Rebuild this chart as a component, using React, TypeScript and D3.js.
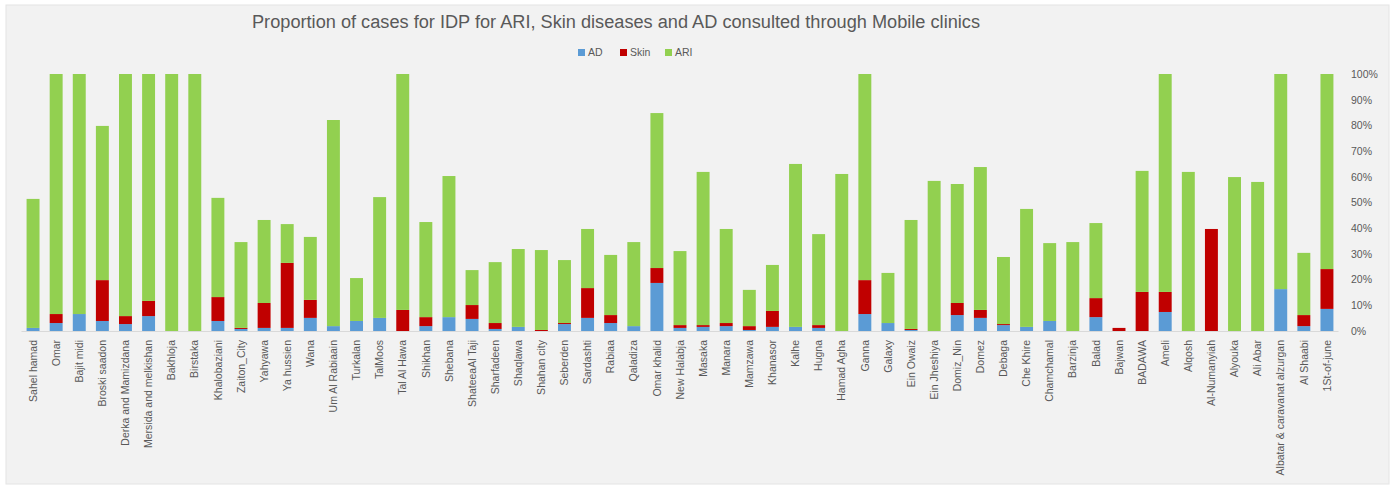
import { useEffect, useRef } from "react";
import * as d3 from "d3";

const categories = [
  "Sahel hamad", "Omar", "Bajit midi", "Broski saadon", "Derka and Mamizdana",
  "Mersida and melkishan", "Bakhloja", "Birstaka", "Khalobaziani", "Zaiton_City",
  "Yahyawa", "Ya hussien", "Wana", "Um Al Rabiaain", "Turkalan", "TalMoos",
  "Tal Al Hawa", "Shikhan", "Shebana", "ShateeaAl Taji", "Sharfadeen", "Shaqlawa",
  "Shahan city", "Seberden", "Sardashti", "Rabiaa", "Qaladiza", "Omar khalid",
  "New Halabja", "Masaka", "Manara", "Mamzawa", "Khanasor", "Kalhe", "Hugna",
  "Hamad Agha", "Ganna", "Galaxy", "Ein Owaiz", "Ein Jheshiya", "Domiz_Nin",
  "Domez", "Debaga", "Che Khire", "Chamchamal", "Barzinja", "Balad", "Bajwan",
  "BADAWA", "Ameli", "Alqosh", "Al-Numanyiah", "Alyouka", "Ali Abar",
  "Albatar & caravanat alzurgan", "Al Shaabi", "1St-of-june",
];

const adValues = [
  1.2, 3.1, 6.6, 3.9, 2.7, 5.8, 0, 0, 3.9, 0.8,
  1.2, 1.2, 5.1, 1.9, 3.9, 5.1, 0, 1.9, 5.4, 4.7,
  0.8, 1.6, 0, 2.7, 5.1, 3.1, 1.9, 18.7, 1.2, 1.6,
  1.9, 0.4, 1.6, 1.6, 1.2, 0, 6.6, 3.1, 0.4, 0,
  6.2, 5.1, 2.3, 1.6, 3.9, 0, 5.4, 0, 0, 7.4,
  0, 0, 0, 0, 16.3, 1.9, 8.6,
];

const skinValues = [
  0, 3.5, 0, 15.9, 3.1, 5.9, 0, 0, 9.3, 0.4,
  9.7, 25.3, 7.0, 0, 0, 0, 8.2, 3.5, 0, 5.4,
  2.3, 0, 0.4, 0.4, 11.6, 3.1, 0, 5.8, 1.1, 0.7,
  1.2, 1.5, 6.2, 0, 1.1, 0, 13.2, 0, 0.4, 0,
  4.7, 3.1, 0.4, 0, 0, 0, 7.4, 1.2, 15.2, 7.8,
  0, 39.7, 0, 0, 0, 4.3, 15.5,
];

const ariValues = [
  50.2, 93.4, 93.4, 60.0, 94.2, 88.3, 100, 100, 38.6, 33.4,
  32.3, 15.1, 24.5, 80.2, 16.7, 47.0, 91.8, 37.0, 54.9, 13.6,
  23.7, 30.3, 31.1, 24.5, 23.0, 23.4, 32.7, 60.3, 28.8, 59.6,
  36.6, 14.1, 17.9, 63.4, 35.4, 61.1, 80.2, 19.5, 42.4, 58.4,
  46.3, 55.6, 26.1, 45.9, 30.3, 34.6, 29.2, 0, 47.1, 84.8,
  61.9, 0, 59.9, 58.0, 83.7, 24.2, 75.9,
];

const seriesNames = ["AD", "Skin", "ARI"];
const seriesColors = ["#5b9bd5", "#c00000", "#92d050"];
const yTicks = [0, 10, 20, 30, 40, 50, 60, 70, 80, 90, 100];

type Row = { name: string; AD: number; Skin: number; ARI: number };

export default function App() {
  const svgRef = useRef<SVGSVGElement>(null);

  useEffect(() => {
    document.body.style.margin = "0";
    if (!svgRef.current) return;
    const width = 1393;
    const height = 485;
    const font = "'Liberation Sans', Arial, sans-serif";
    const textColor = "#595959";

    const svg = d3.select(svgRef.current);
    svg.selectAll("*").remove();
    svg.attr("width", width).attr("height", height);

    svg.append("rect").attr("width", width).attr("height", height).attr("fill", "#ffffff");
    svg
      .append("rect")
      .attr("x", 6)
      .attr("y", 5)
      .attr("width", 1383)
      .attr("height", 479)
      .attr("fill", "#f2f2f2")
      .attr("stroke", "#e4e4e4");

    const rows: Row[] = categories.map((name, i) => ({
      name,
      AD: adValues[i],
      Skin: skinValues[i],
      ARI: ariValues[i],
    }));

    const x = d3.scaleBand().domain(categories).range([21.5, 1338.5]).paddingInner(0.44).paddingOuter(0.22);
    const y = d3.scaleLinear().domain([0, 100]).range([331, 74]);

    const stack = d3.stack<Row>().keys(seriesNames);
    const layers = stack(rows);

    // Bars
    svg
      .append("g")
      .selectAll("g")
      .data(layers)
      .join("g")
      .attr("fill", (_d, i) => seriesColors[i])
      .selectAll("rect")
      .data((d) => d)
      .join("rect")
      .attr("x", (d) => x(d.data.name)!)
      .attr("width", x.bandwidth())
      .attr("y", (d) => y(d[1]))
      .attr("height", (d) => Math.max(0, y(d[0]) - y(d[1])));

    // Baseline
    svg
      .append("line")
      .attr("x1", 21.5)
      .attr("x2", 1338.5)
      .attr("y1", 331.5)
      .attr("y2", 331.5)
      .attr("stroke", "#d9d9d9")
      .attr("stroke-width", 1);

    // Right axis
    const yAxis = d3
      .axisRight(y)
      .tickValues(yTicks)
      .tickFormat((d) => `${d}%`)
      .tickSize(0)
      .tickPadding(0);
    const gy = svg.append("g").attr("transform", "translate(1351,0)").call(yAxis);
    gy.select(".domain").remove();
    gy.selectAll("text")
      .attr("fill", textColor)
      .style("font-family", font)
      .style("font-size", "10.5px");

    // Category labels
    const xAxis = d3.axisBottom(x).tickSize(0).tickPadding(0);
    const gx = svg.append("g").attr("transform", "translate(0,340)").call(xAxis);
    gx.select(".domain").remove();
    gx.selectAll("text")
      .attr("transform", "rotate(-90)")
      .attr("x", 0)
      .attr("y", 0)
      .attr("dy", "0.35em")
      .attr("text-anchor", "end")
      .attr("fill", textColor)
      .style("font-family", font)
      .style("font-size", "10.5px");

    // Title
    svg
      .append("text")
      .attr("x", 616)
      .attr("y", 28)
      .attr("text-anchor", "middle")
      .attr("fill", textColor)
      .attr("textLength", 728)
      .attr("lengthAdjust", "spacingAndGlyphs")
      .style("font-family", font)
      .style("font-size", "18px")
      .text("Proportion of cases for IDP for ARI, Skin diseases and AD consulted through Mobile clinics");

    // Legend
    const legendX = [578, 620, 665];
    const legend = svg
      .append("g")
      .selectAll("g")
      .data(seriesNames)
      .join("g")
      .attr("transform", (_d, i) => `translate(${legendX[i]},49)`);
    legend
      .append("rect")
      .attr("width", 7)
      .attr("height", 7)
      .attr("fill", (_d, i) => seriesColors[i]);
    legend
      .append("text")
      .attr("x", 10)
      .attr("y", 7)
      .attr("fill", textColor)
      .style("font-family", font)
      .style("font-size", "10.5px")
      .text((d) => d);
  }, []);

  return (
    <div style={{ width: 1393, height: 485 }}>
      <svg ref={svgRef} style={{ display: "block" }} />
    </div>
  );
}
